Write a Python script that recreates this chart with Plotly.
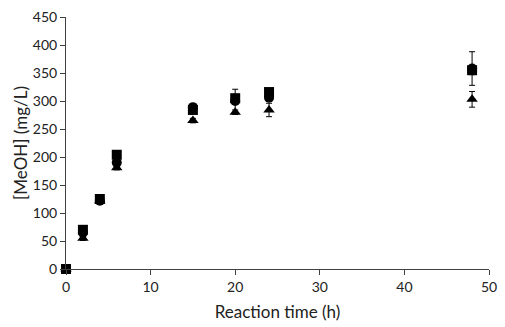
import plotly.graph_objects as go

time_h = [0, 2, 4, 6, 15, 20, 24, 48]
sq_vals = [0, 70, 125, 204, 284, 305, 316, 355]
sq_err = [0, 5, 5, 5, 4, 5, 5, 8]
ci_vals = [0, 65, 122, 190, 289, 300, 306, 358]
ci_err = [0, 4, 4, 5, 5, 21, 6, 30]
tr_vals = [0, 55, 122, 181, 265, 280, 284, 303]
tr_err = [0, 4, 4, 4, 4, 4, 12, 14]

fig = go.Figure()
for vals, err, sym, size in [(tr_vals, tr_err, "triangle-up", 10),
                              (ci_vals, ci_err, "circle", 10),
                              (sq_vals, sq_err, "square", 10)]:
    fig.add_trace(go.Scatter(
        x=time_h, y=vals, mode="markers", cliponaxis=False,
        marker=dict(symbol=sym, size=size, color="black"),
        error_y=dict(type="data", array=err, visible=True, color="black",
                     thickness=1, width=3),
        showlegend=False))

fig.update_layout(
    width=505, height=327,
    margin=dict(l=66, r=10, t=8, b=58),
    paper_bgcolor="white", plot_bgcolor="white",
    font=dict(family="Lato, Open Sans, sans-serif", size=14, color="#222"),
    xaxis=dict(range=[0, 50], tickvals=[0, 10, 20, 30, 40, 50],
               showline=True, linecolor="#404040", linewidth=1,
               ticks="outside", ticklen=5, tickcolor="#404040",
               showgrid=False, zeroline=False, ticklabeloverflow="allow",
               title=dict(text="Reaction time (h)", standoff=12)),
    yaxis=dict(range=[0, 450], tickvals=list(range(0, 451, 50)),
               showline=True, linecolor="#404040", linewidth=1,
               ticks="outside", ticklen=5, tickcolor="#404040",
               showgrid=False, zeroline=False, ticklabeloverflow="allow",
               title=dict(text="[MeOH] (mg/L)", standoff=0)),
)
fig.write_html(
    "out.html",
    config={"displayModeBar": False},
    post_script="document.body.style.margin='0';document.body.style.overflow='hidden';",
)
